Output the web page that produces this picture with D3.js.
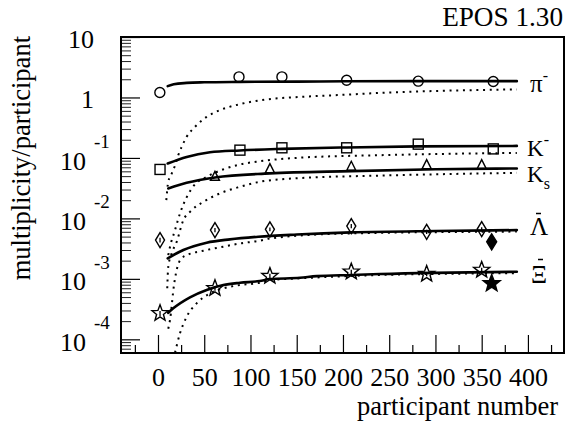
<!DOCTYPE html>
<html><head><meta charset="utf-8">
<script src="https://cdn.jsdelivr.net/npm/d3@7"></script>
<style>
body{margin:0;background:#fff}
svg{display:block}
svg text{font-family:"Liberation Serif","Times New Roman",Times,"DejaVu Serif",serif;fill:#000}
</style>
</head><body>
<svg id="chart" width="576" height="424"></svg>
<script>
// ---- measured yields per participant (open: NA49-like, filled: extra points) ----
const pionN = [2, 87.6, 134, 204, 281.4, 362.5];
const pionY = [1.21, 2.19, 2.19, 1.93, 1.86, 1.84];
const kminN = [2.2, 88.6, 134, 204, 281.4, 362.5];
const kminY = [0.0645, 0.1345, 0.147, 0.147, 0.169, 0.141];
const kshortN = [61.6, 121, 209, 290.5, 350];
const kshortY = [0.0487, 0.0653, 0.0713, 0.076, 0.076];
const lambdaN = [2.2, 61.6, 121, 209, 290.5, 350];
const lambdaY = [0.00438, 0.00641, 0.0066, 0.00746, 0.0060, 0.00665];
const lambdaErr = [0.0004, 0.0005, 0.0005, 0.0006, 0.0005, 0.0005];
const lambdaFilledN = [360.8];
const lambdaFilledY = [0.0041];
const xiN = [2.2, 61.6, 121, 209, 290.5, 350];
const xiY = [2.69e-4, 6.97e-4, 1.11e-3, 1.31e-3, 1.2e-3, 1.4e-3];
const xiErr = [2.5e-5, 6e-5, 1e-4, 1.1e-4, 1e-4, 1.2e-4];
const xiFilledN = [360.8];
const xiFilledY = [8.4e-4];

// ---- EPOS 1.30 full calculation (solid) ----
const pionFullN = [10.5, 17, 31, 50, 88.6, 150, 204, 281, 388];
const pionFull = [1.54, 1.66, 1.74, 1.78, 1.81, 1.83, 1.85, 1.86, 1.86];
const kminFullN = [10.5, 31, 56.2, 88.6, 134, 204, 281, 388];
const kminFull = [0.081, 0.104, 0.124, 0.133, 0.141, 0.149, 0.155, 0.158];
const kshortFullN = [11.1, 31, 61.6, 121, 209, 300, 388];
const kshortFull = [0.0313, 0.0387, 0.0476, 0.0555, 0.0605, 0.065, 0.067];
const lambdaFullN = [10.5, 27.4, 52.6, 77.8, 108.4, 150, 209, 300, 388];
const lambdaFull = [0.00218, 0.003, 0.00396, 0.0045, 0.00497, 0.0054, 0.00587, 0.0062, 0.0064];
const xiFullN = [11.1, 16.5, 34.6, 52.6, 70.6, 88.6, 110, 121, 153.5, 171.6, 209, 240, 388];
const xiFull = [2.75e-4, 3.25e-4, 4.94e-4, 6.53e-4, 7.89e-4, 8.62e-4, 9.2e-4, 9.93e-4, 1.04e-3, 1.11e-3, 1.16e-3, 1.2e-3, 1.31e-3];

// ---- core contribution (dotted) ----
const pionCoreN = [9, 11.1, 14.8, 18.4, 21.9, 25.6, 31, 40, 52.6, 67, 88.6, 117.5, 153.5, 207.6, 240, 300, 388];
const pionCore = [0.02, 0.0403, 0.055, 0.0750, 0.111, 0.152, 0.223, 0.327, 0.478, 0.617, 0.775, 0.927, 1.02, 1.12, 1.19, 1.28, 1.36];
const kminCoreN = [11.1, 13, 18.4, 23.8, 37.8, 52.6, 70.3, 88.6, 110, 153.5, 240, 388];
const kminCore = [0.00247, 0.0034, 0.0064, 0.0121, 0.0333, 0.0487, 0.0645, 0.078, 0.088, 0.101, 0.111, 0.121];
const kshortCoreN = [10, 11.1, 14.8, 20.2, 27.4, 34.6, 49, 67, 88.6, 110, 153.5, 240, 388];
const kshortCore = [0.0007, 0.00158, 0.00264, 0.0041, 0.00937, 0.01285, 0.0188, 0.0259, 0.0333, 0.0403, 0.0464, 0.051, 0.0567];
const lambdaCoreN = [11.1, 13, 17.3, 21.6, 27.4, 52.6, 70.6, 88.6, 110, 121, 209, 388];
const lambdaCore = [1.5e-4, 2.1e-4, 7.9e-4, 0.00169, 0.00232, 0.003, 0.0034, 0.00386, 0.00427, 0.00467, 0.00565, 0.00605];
const xiCoreN = [18.4, 23.8, 31, 41.8, 56.2, 70.6, 88.6, 110, 121, 153.5, 240, 388];
const xiCore = [6.0e-5, 1.26e-4, 2.36e-4, 3.94e-4, 5.75e-4, 6.97e-4, 7.9e-4, 8.62e-4, 9.55e-4, 1.02e-3, 1.16e-3, 1.24e-3];

// ---- axes ----
const xMajorTicks = [0, 50, 100, 150, 200, 250, 300, 350, 400];
const xMinorTicks = [-25, 25, 75, 125, 175, 225, 275, 325, 375, 425];
const yDecades = [1, 0, -1, -2, -3, -4];

const SERIF = "Liberation Serif, Times New Roman, Times, DejaVu Serif, serif";
const svg = d3.select("#chart");
const fL = 121, fR = 564, fT = 37, fB = 353;
const x = d3.scaleLinear().domain([-40, 439]).range([fL, fR]);
const y = d3.scaleLog().domain([5.94e-5, 10]).range([fB, fT]);

svg.append("defs").append("clipPath").attr("id", "frame")
  .append("rect").attr("x", fL).attr("y", fT).attr("width", fR - fL).attr("height", fB - fT);

// x axis: long ticks every 50, short ticks in between, pointing into the frame
const xAxisMajor = d3.axisBottom(x).tickValues(xMajorTicks).tickSizeInner(-18).tickSizeOuter(0).tickPadding(15)
  .tickFormat(d3.format("d"));
const gx = svg.append("g").attr("transform", `translate(0,${fB})`).call(xAxisMajor)
  .attr("font-family", SERIF).attr("font-size", 26);
gx.select(".domain").remove();
gx.selectAll("line").attr("stroke", "#000").attr("stroke-width", 1.2);
gx.selectAll("text").attr("font-size", 26);
const gxm = svg.append("g").attr("transform", `translate(0,${fB})`)
  .call(d3.axisBottom(x).tickValues(xMinorTicks).tickSizeInner(-8).tickSizeOuter(0).tickFormat(""));
gxm.select(".domain").remove();
gxm.selectAll("line").attr("stroke", "#000").attr("stroke-width", 1.2);

// y axis: decade ticks plus 2..9 subdivisions
const yMinor = [];
for (let k = -5; k <= 0; k++) for (let m = 2; m <= 9; m++) {
  const v = m * Math.pow(10, k);
  if (v > y.domain()[0] && v < y.domain()[1]) yMinor.push(v);
}
const gy = svg.append("g").attr("transform", `translate(${fL},0)`)
  .call(d3.axisLeft(y).tickValues(yDecades.map(d => Math.pow(10, d))).tickSizeInner(-19).tickSizeOuter(0).tickFormat(""));
gy.select(".domain").remove();
gy.selectAll("line").attr("stroke", "#000").attr("stroke-width", 1.2);
const gym = svg.append("g").attr("transform", `translate(${fL},0)`)
  .call(d3.axisLeft(y).tickValues(yMinor).tickSizeInner(-10).tickSizeOuter(0).tickFormat(""));
gym.select(".domain").remove();
gym.selectAll("line").attr("stroke", "#222").attr("stroke-width", 1);

// y tick labels: 10, 1, and 10 with a raised exponent
const yl = svg.append("g").attr("font-family", SERIF);
yDecades.forEach(d => {
  const ty = y(Math.pow(10, d));
  if (d >= 0) {
    yl.append("text").attr("x", 94).attr("y", ty + 1.5).attr("dy", "0.35em").attr("text-anchor", "end")
      .attr("font-size", 26).text(d === 0 ? "1" : "10");
  } else {
    yl.append("text").attr("x", 86).attr("y", ty + 2.5).attr("dy", "0.35em").attr("text-anchor", "end")
      .attr("font-size", 26).text("10");
    yl.append("text").attr("x", 94).attr("y", ty - 17).attr("dy", "0.35em").attr("text-anchor", "start")
      .attr("font-size", 19).text(String(d));
  }
});

// frame
svg.append("rect").attr("x", fL).attr("y", fT).attr("width", fR - fL).attr("height", fB - fT)
  .attr("fill", "none").attr("stroke", "#000").attr("stroke-width", 2);

// axis titles
const titles = svg.append("g").attr("font-family", SERIF);
titles.append("text").attr("x", 558).attr("y", 415).attr("text-anchor", "end").attr("font-size", 26.5)
  .text("participant number");
titles.append("text").attr("transform", "translate(30,36) rotate(-90)").attr("text-anchor", "end").attr("font-size", 26.5)
  .text("multiplicity/participant");
titles.append("text").attr("x", 563).attr("y", 26).attr("text-anchor", "end").attr("font-size", 27.2)
  .text("EPOS 1.30");

// model curves
const plot = svg.append("g").attr("clip-path", "url(#frame)");
const line = d3.line().x(d => x(d[0])).y(d => y(d[1])).curve(d3.curveMonotoneX);
const zipped = (ns, vs) => ns.map((n, i) => [n, vs[i]]);
const fullCurves = [[pionFullN, pionFull], [kminFullN, kminFull], [kshortFullN, kshortFull], [lambdaFullN, lambdaFull], [xiFullN, xiFull]];
const coreCurves = [[pionCoreN, pionCore], [kminCoreN, kminCore], [kshortCoreN, kshortCore], [lambdaCoreN, lambdaCore], [xiCoreN, xiCore]];
coreCurves.forEach(([ns, vs]) => {
  plot.append("path").attr("d", line(zipped(ns, vs))).attr("fill", "none").attr("stroke", "#000")
    .attr("stroke-width", 2).attr("stroke-dasharray", "2 4.7");
});
fullCurves.forEach(([ns, vs]) => {
  plot.append("path").attr("d", line(zipped(ns, vs))).attr("fill", "none").attr("stroke", "#000")
    .attr("stroke-width", 2.6).attr("stroke-linecap", "round");
});

// markers
const mk = svg.append("g").attr("stroke", "#000").attr("stroke-width", 1.4);
function diamondPath(w, h) { return `M0,${-h}L${w},0L0,${h}L${-w},0Z`; }
function starPath(R, r) {
  let p = "";
  for (let i = 0; i < 10; i++) {
    const a = -Math.PI / 2 + i * Math.PI / 5, rr = i % 2 ? r : R;
    p += (i ? "L" : "M") + (rr * Math.cos(a)).toFixed(2) + "," + (rr * Math.sin(a)).toFixed(2);
  }
  return p + "Z";
}
zipped(pionN, pionY).forEach(d => {
  mk.append("circle").attr("cx", x(d[0])).attr("cy", y(d[1])).attr("r", 5).attr("fill", "none");
});
zipped(kminN, kminY).forEach(d => {
  mk.append("rect").attr("x", x(d[0]) - 5).attr("y", y(d[1]) - 5).attr("width", 10).attr("height", 10).attr("fill", "none");
});
zipped(kshortN, kshortY).forEach(d => {
  mk.append("path").attr("transform", `translate(${x(d[0])},${y(d[1])})`)
    .attr("d", "M0,-5.5L4.5,3.5L-4.5,3.5Z").attr("fill", "none");
});
lambdaN.forEach((n, i) => {
  const cx = x(n), cy = y(lambdaY[i]);
  mk.append("line").attr("x1", cx).attr("x2", cx).attr("y1", y(lambdaY[i] - lambdaErr[i])).attr("y2", y(lambdaY[i] + lambdaErr[i])).attr("stroke-width", 1.3);
  mk.append("path").attr("transform", `translate(${cx},${cy})`).attr("d", diamondPath(4.5, 7.5)).attr("fill", "none");
});
zipped(lambdaFilledN, lambdaFilledY).forEach(d => {
  mk.append("path").attr("transform", `translate(${x(d[0])},${y(d[1])})`).attr("d", diamondPath(5, 8)).attr("fill", "#000");
});
xiN.forEach((n, i) => {
  const cx = x(n), cy = y(xiY[i]);
  mk.append("line").attr("x1", cx).attr("x2", cx).attr("y1", y(xiY[i] - xiErr[i])).attr("y2", y(xiY[i] + xiErr[i])).attr("stroke-width", 1.3);
  mk.append("path").attr("transform", `translate(${cx},${cy})`).attr("d", starPath(8.5, 3.6)).attr("fill", "none");
});
zipped(xiFilledN, xiFilledY).forEach(d => {
  mk.append("path").attr("transform", `translate(${x(d[0])},${y(d[1])})`).attr("d", starPath(9, 3.8)).attr("fill", "#000");
});

// particle labels at the right end of the curves
const lab = svg.append("g").attr("font-family", SERIF);
function label(xp, yp, size, main, sup, sub, bar) {
  const t = lab.append("text").attr("x", xp).attr("y", yp).attr("font-size", size);
  t.append("tspan").text(main);
  if (sup) t.append("tspan").attr("font-size", 16).attr("dy", -11).text(sup);
  if (sub) t.append("tspan").attr("font-size", 16).attr("dy", 7).text(sub);
  if (bar) lab.append("line").attr("x1", xp + bar[0]).attr("x2", xp + bar[1]).attr("y1", bar[2]).attr("y2", bar[2])
    .attr("stroke", "#000").attr("stroke-width", 1.5);
}
label(530, 92, 25, "π", "-");
label(527, 156, 23, "K", "-");
label(527, 181.5, 23, "K", null, "s");
label(530, 235, 25, "Λ", null, null, [6, 11, 213.5]);
label(531, 283, 25, "Ξ", null, null, [7, 12, 259.5]);
</script>
</body></html>
